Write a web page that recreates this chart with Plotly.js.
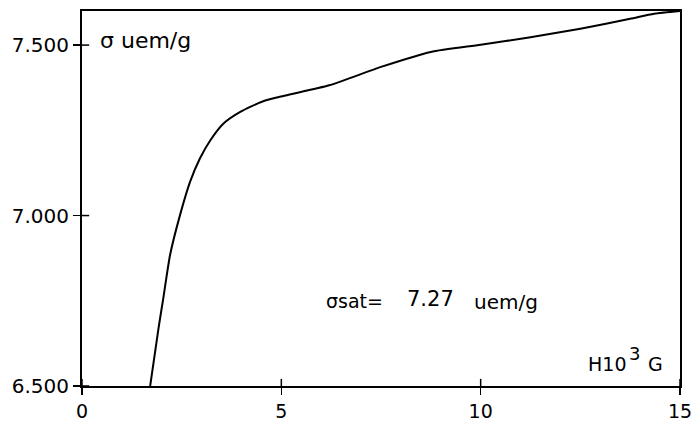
<!DOCTYPE html>
<html>
<head>
<meta charset="utf-8">
<script src="https://cdn.plot.ly/plotly-3.0.1.min.js"></script>
<style>html,body{margin:0;padding:0;background:#fff;}#chart{width:695px;height:421px;}</style>
</head>
<body>
<div id="chart"></div>
<script>
// Field H (10^3 G)
const fieldH = [1.71, 1.92, 2.04, 2.21, 2.46, 2.71, 2.96, 3.22, 3.55, 3.97, 4.56, 5.1, 6.2, 7.5, 8.75, 10.0, 11.25, 12.5, 13.75, 14.35, 15.0];
// Magnetization sigma (axis labels as drawn)
const sigma  = [6.50, 6.67, 6.758, 6.885, 7.002, 7.099, 7.168, 7.221, 7.270, 7.304, 7.336, 7.352, 7.382, 7.436, 7.480, 7.501, 7.523, 7.548, 7.577, 7.592, 7.60];

const xTickVals = [0, 5, 10, 15];
const xTickText = ['0', '5', '10', '15'];
const yTickVals = [6.5, 7.0, 7.5];
const yTickText = ['6.500', '7.000', '7.500'];

const fontFam = 'DejaVu Sans, Verdana, sans-serif';

const data = [{
  x: fieldH, y: sigma, type: 'scatter', mode: 'lines',
  line: {color: '#000', width: 2, shape: 'spline', smoothing: 0.6},
  hoverinfo: 'skip', showlegend: false
}];

// inner half of the crossing tick marks
const shapes = [];
xTickVals.forEach(v => shapes.push({type: 'line', xref: 'x', yref: 'paper', x0: v, x1: v, y0: 0, y1: 0.019,
  line: {color: '#000', width: 1.5}}));
yTickVals.forEach(v => shapes.push({type: 'line', xref: 'paper', yref: 'y', x0: 0, x1: 0.012, y0: v, y1: v,
  line: {color: '#000', width: 1.5}}));

const layout = {
  width: 695, height: 421,
  margin: {l: 82, r: 15, t: 11, b: 35},
  paper_bgcolor: '#fff', plot_bgcolor: '#fff',
  font: {family: fontFam, color: '#000', size: 19},
  xaxis: {
    range: [0, 15], tickvals: xTickVals, ticktext: xTickText,
    ticks: 'outside', ticklen: 7, tickwidth: 1.5, tickcolor: '#000',
    showline: true, linecolor: '#000', linewidth: 2, mirror: true,
    showgrid: false, zeroline: false, fixedrange: true,
    tickfont: {size: 19, color: '#000'}
  },
  yaxis: {
    range: [6.5, 7.6], tickvals: yTickVals, ticktext: yTickText,
    ticks: 'outside', ticklen: 7, tickwidth: 1.5, tickcolor: '#000',
    showline: true, linecolor: '#000', linewidth: 2, mirror: true,
    showgrid: false, zeroline: false, fixedrange: true,
    tickfont: {size: 20, color: '#000'}
  },
  shapes: shapes,
  annotations: [
    {xref: 'paper', yref: 'y', x: 0.026, y: 7.514, xanchor: 'left', yanchor: 'middle',
     text: 'σ uem/g', showarrow: false, font: {size: 22}},
    {xref: 'x', yref: 'y', x: 6.06, y: 6.75, xanchor: 'left', yanchor: 'middle',
     text: 'σsat=', showarrow: false, font: {size: 19}},
    {xref: 'x', yref: 'y', x: 8.09, y: 6.755, xanchor: 'left', yanchor: 'middle',
     text: '7.27', showarrow: false, font: {size: 21}},
    {xref: 'x', yref: 'y', x: 9.77, y: 6.745, xanchor: 'left', yanchor: 'middle',
     text: 'uem/g', showarrow: false, font: {size: 20}},
    {xref: 'x', yref: 'y', x: 12.64, y: 6.565, xanchor: 'left', yanchor: 'middle',
     text: 'H10', showarrow: false, font: {size: 19}},
    {xref: 'x', yref: 'y', x: 13.66, y: 6.596, xanchor: 'left', yanchor: 'middle',
     text: '3', showarrow: false, font: {size: 18}},
    {xref: 'x', yref: 'y', x: 14.15, y: 6.565, xanchor: 'left', yanchor: 'middle',
     text: 'G', showarrow: false, font: {size: 19}}
  ]
};

Plotly.newPlot('chart', data, layout, {staticPlot: true});
</script>
</body>
</html>
